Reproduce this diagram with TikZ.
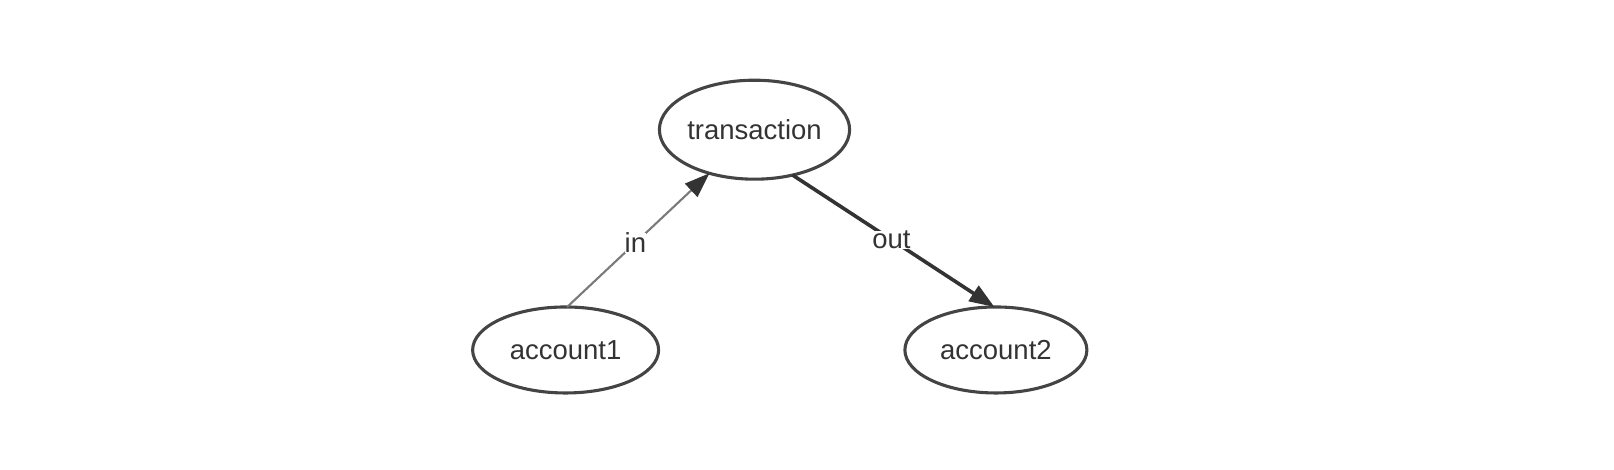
\documentclass[tikz,border=0pt]{standalone}
\usepackage{fontspec}
\setmainfont{Liberation Sans}
\usetikzlibrary{shapes.geometric,arrows.meta}
\definecolor{edgeC}{HTML}{444444}
\definecolor{txtC}{HTML}{333333}
\definecolor{inC}{HTML}{7A7A7A}
\definecolor{outC}{HTML}{333333}
\begin{document}
\begin{tikzpicture}[x=1.0294pt,y=-1.0294pt,
  ent/.style={ellipse,draw=edgeC,line width=3.1pt,inner sep=0pt,outer sep=0pt,
    text=txtC,font=\fontsize{27.5}{32}\selectfont},
  lbl/.style={fill=white,inner sep=0pt,text=txtC,font=\fontsize{27.5}{32}\selectfont}
]
\useasboundingbox (0,0) rectangle (1568,456.6);
\node[ent,minimum width=188pt,minimum height=99pt] (t) at (733,126) {transaction};
\node[ent,minimum width=186pt,minimum height=86pt] (a1) at (549.5,340) {account1};
\node[ent,minimum width=182pt,minimum height=86pt] (a2) at (967.5,340) {account2};
\draw[draw=inC,line width=2.1pt,-{Triangle[length=25pt,width=18pt,color=outC]}] (a1.88) -- (t.224)
  node[lbl,pos=0.48] {in};
\draw[draw=outC,line width=3.6pt,-{Triangle[length=25pt,width=18pt,color=outC]}] (t.310) -- (a2.92)
  node[lbl,pos=0.49] {out};
\end{tikzpicture}
\end{document}
